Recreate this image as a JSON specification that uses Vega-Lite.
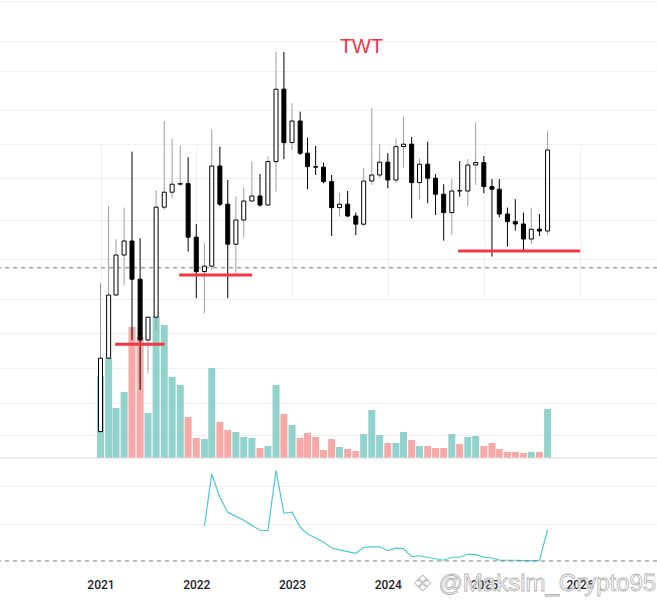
{
  "$schema": "https://vega.github.io/schema/vega-lite/v6.json",
  "width": 657,
  "height": 603,
  "autosize": {"type": "none"},
  "padding": 0,
  "background": "white",
  "datasets": {
    "ohlc": [
      {"date": "2021-01-01", "open": 0.702, "high": 1.444, "low": 0.700, "close": 1.069, "volume": 82, "ind": null},
      {"date": "2021-02-01", "open": 1.069, "high": 1.830, "low": 1.066, "close": 1.385, "volume": 100, "ind": null},
      {"date": "2021-03-01", "open": 1.385, "high": 1.664, "low": 1.380, "close": 1.585, "volume": 50, "ind": null},
      {"date": "2021-04-01", "open": 1.585, "high": 1.822, "low": 1.435, "close": 1.655, "volume": 66, "ind": null},
      {"date": "2021-05-01", "open": 1.655, "high": 2.102, "low": 1.160, "close": 1.464, "volume": 131, "ind": null},
      {"date": "2021-06-01", "open": 1.464, "high": 1.669, "low": 0.910, "close": 1.160, "volume": 121, "ind": null},
      {"date": "2021-07-01", "open": 1.160, "high": 1.276, "low": 0.995, "close": 1.274, "volume": 45, "ind": null},
      {"date": "2021-08-01", "open": 1.274, "high": 1.910, "low": 1.210, "close": 1.824, "volume": 142, "ind": null},
      {"date": "2021-09-01", "open": 1.824, "high": 2.255, "low": 1.810, "close": 1.899, "volume": 133, "ind": null},
      {"date": "2021-10-01", "open": 1.899, "high": 2.165, "low": 1.869, "close": 1.939, "volume": 81, "ind": null},
      {"date": "2021-11-01", "open": 1.939, "high": 2.132, "low": 1.930, "close": 1.942, "volume": 73, "ind": null},
      {"date": "2021-12-01", "open": 1.942, "high": 2.074, "low": 1.602, "close": 1.674, "volume": 41, "ind": null},
      {"date": "2022-01-01", "open": 1.674, "high": 1.740, "low": 1.369, "close": 1.502, "volume": 20, "ind": null},
      {"date": "2022-02-01", "open": 1.502, "high": 1.644, "low": 1.294, "close": 1.529, "volume": 19, "ind": 18.5},
      {"date": "2022-03-01", "open": 1.529, "high": 2.214, "low": 1.510, "close": 2.030, "volume": 90, "ind": 46.4},
      {"date": "2022-04-01", "open": 2.030, "high": 2.127, "low": 1.830, "close": 1.839, "volume": 36, "ind": 34.0},
      {"date": "2022-05-01", "open": 1.839, "high": 1.960, "low": 1.369, "close": 1.639, "volume": 28, "ind": 26.0},
      {"date": "2022-06-01", "open": 1.639, "high": 1.877, "low": 1.494, "close": 1.760, "volume": 26, "ind": 23.8},
      {"date": "2022-07-01", "open": 1.760, "high": 1.922, "low": 1.674, "close": 1.855, "volume": 21, "ind": 21.7},
      {"date": "2022-08-01", "open": 1.855, "high": 2.052, "low": 1.853, "close": 1.880, "volume": 20, "ind": 19.0},
      {"date": "2022-09-01", "open": 1.880, "high": 1.990, "low": 1.827, "close": 1.835, "volume": 10, "ind": 16.4},
      {"date": "2022-10-01", "open": 1.835, "high": 2.077, "low": 1.830, "close": 2.052, "volume": 12, "ind": 16.2},
      {"date": "2022-11-01", "open": 2.052, "high": 2.602, "low": 1.902, "close": 2.414, "volume": 73, "ind": 48.2},
      {"date": "2022-12-01", "open": 2.414, "high": 2.600, "low": 2.064, "close": 2.147, "volume": 44, "ind": 25.6},
      {"date": "2023-01-01", "open": 2.147, "high": 2.344, "low": 2.110, "close": 2.255, "volume": 33, "ind": 26.0},
      {"date": "2023-02-01", "open": 2.255, "high": 2.302, "low": 2.085, "close": 2.094, "volume": 20, "ind": 18.1},
      {"date": "2023-03-01", "open": 2.094, "high": 2.172, "low": 1.914, "close": 2.027, "volume": 25, "ind": 14.4},
      {"date": "2023-04-01", "open": 2.027, "high": 2.130, "low": 1.985, "close": 2.024, "volume": 21, "ind": 12.3},
      {"date": "2023-05-01", "open": 2.024, "high": 2.047, "low": 1.944, "close": 1.952, "volume": 8, "ind": 10.1},
      {"date": "2023-06-01", "open": 1.952, "high": 1.985, "low": 1.680, "close": 1.822, "volume": 19, "ind": 6.9},
      {"date": "2023-07-01", "open": 1.822, "high": 1.894, "low": 1.777, "close": 1.839, "volume": 11, "ind": 5.9},
      {"date": "2023-08-01", "open": 1.839, "high": 1.905, "low": 1.774, "close": 1.780, "volume": 9, "ind": 5.0},
      {"date": "2023-09-01", "open": 1.780, "high": 1.797, "low": 1.685, "close": 1.739, "volume": 7, "ind": 4.1},
      {"date": "2023-10-01", "open": 1.739, "high": 2.019, "low": 1.727, "close": 1.955, "volume": 24, "ind": 7.3},
      {"date": "2023-11-01", "open": 1.955, "high": 2.319, "low": 1.935, "close": 1.985, "volume": 48, "ind": 7.5},
      {"date": "2023-12-01", "open": 1.985, "high": 2.140, "low": 1.970, "close": 2.049, "volume": 23, "ind": 7.6},
      {"date": "2024-01-01", "open": 2.049, "high": 2.094, "low": 1.919, "close": 1.960, "volume": 15, "ind": 5.5},
      {"date": "2024-02-01", "open": 1.960, "high": 2.169, "low": 1.947, "close": 2.127, "volume": 15, "ind": 6.9},
      {"date": "2024-03-01", "open": 2.127, "high": 2.277, "low": 2.022, "close": 2.139, "volume": 26, "ind": 6.6},
      {"date": "2024-04-01", "open": 2.139, "high": 2.175, "low": 1.769, "close": 1.947, "volume": 18, "ind": 2.3},
      {"date": "2024-05-01", "open": 1.947, "high": 2.069, "low": 1.864, "close": 2.039, "volume": 12, "ind": 2.8},
      {"date": "2024-06-01", "open": 2.039, "high": 2.152, "low": 1.844, "close": 1.969, "volume": 12, "ind": 2.0},
      {"date": "2024-07-01", "open": 1.969, "high": 1.990, "low": 1.785, "close": 1.889, "volume": 10, "ind": 1.2},
      {"date": "2024-08-01", "open": 1.889, "high": 1.939, "low": 1.657, "close": 1.797, "volume": 10, "ind": 0.4},
      {"date": "2024-09-01", "open": 1.797, "high": 1.965, "low": 1.685, "close": 1.905, "volume": 24, "ind": 2.0},
      {"date": "2024-10-01", "open": 1.907, "high": 2.055, "low": 1.877, "close": 1.905, "volume": 14, "ind": 2.0},
      {"date": "2024-11-01", "open": 1.905, "high": 2.065, "low": 1.830, "close": 2.035, "volume": 21, "ind": 3.7},
      {"date": "2024-12-01", "open": 2.035, "high": 2.247, "low": 1.935, "close": 2.047, "volume": 22, "ind": 3.4},
      {"date": "2025-01-01", "open": 2.047, "high": 2.080, "low": 1.894, "close": 1.927, "volume": 12, "ind": 2.1},
      {"date": "2025-02-01", "open": 1.927, "high": 1.965, "low": 1.577, "close": 1.914, "volume": 15, "ind": 1.6},
      {"date": "2025-03-01", "open": 1.914, "high": 1.965, "low": 1.774, "close": 1.790, "volume": 9, "ind": 0.5},
      {"date": "2025-04-01", "open": 1.790, "high": 1.822, "low": 1.627, "close": 1.752, "volume": 6, "ind": 0.4},
      {"date": "2025-05-01", "open": 1.752, "high": 1.864, "low": 1.707, "close": 1.740, "volume": 6, "ind": 0.4},
      {"date": "2025-06-01", "open": 1.740, "high": 1.797, "low": 1.607, "close": 1.665, "volume": 5, "ind": 0.2},
      {"date": "2025-07-01", "open": 1.665, "high": 1.822, "low": 1.640, "close": 1.714, "volume": 6, "ind": 0.2},
      {"date": "2025-08-01", "open": 1.714, "high": 1.790, "low": 1.680, "close": 1.705, "volume": 6, "ind": 0.2},
      {"date": "2025-09-01", "open": 1.705, "high": 2.207, "low": 1.685, "close": 2.110, "volume": 49, "ind": 16.7}
    ],
    "levels": [
      {"start": "2021-02-26", "end": "2021-09-02", "level": 1.139},
      {"start": "2021-10-28", "end": "2022-08-02", "level": 1.485},
      {"start": "2024-09-25", "end": "2026-01-03", "level": 1.605}
    ],
    "one": [{}]
  },
  "resolve": {"scale": {"y": "independent"}},
  "layer": [
    {
      "data": {"name": "ohlc"},
      "mark": {"type": "bar", "width": 7},
      "encoding": {
        "x": {
          "field": "date",
          "type": "temporal",
          "title": null,
          "scale": {"domain": ["2020-01-03", "2026-10-04"], "nice": false},
          "axis": {
            "values": ["2021-01-01", "2022-01-01", "2023-01-01", "2024-01-01", "2025-01-01", "2026-01-01"],
            "format": "%Y",
            "grid": true,
            "gridColor": "#efefef",
            "domainColor": "#e3e3e3",
            "ticks": false,
            "labelPadding": -24,
            "labelFont": "Roboto",
            "labelFontSize": 12,
            "labelFontWeight": 500,
            "labelColor": "#1e222d",
            "labelFlush": false,
            "labelOverlap": false,
            "zindex": 0
          }
        },
        "y": {"field": "volume", "type": "quantitative", "scale": {"domain": [0, 150], "range": [458, 308]}, "axis": null},
        "color": {"condition": {"test": "datum.close >= datum.open", "value": "#92d2cc"}, "value": "#f7a9a7"}
      }
    },
    {
      "data": {"name": "one"},
      "mark": {"type": "rule", "color": "#d9d9d9", "strokeWidth": 1},
      "encoding": {
        "y": {"datum": 0, "scale": {"domain": [0, 150], "range": [458, 308]}, "axis": null}
      }
    },
    {
      "data": {"name": "one"},
      "mark": {"type": "rule", "color": "#7a7a7a", "strokeWidth": 1, "strokeDash": [4, 4]},
      "encoding": {
        "y": {"datum": 1.521, "scale": {"domain": [0, 2.86], "range": [572, 0]}, "axis": null}
      }
    },
    {
      "data": {"name": "ohlc"},
      "mark": {"type": "line", "color": "#4ccad6", "strokeWidth": 1.2},
      "encoding": {
        "x": {"field": "date", "type": "temporal", "title": null},
        "y": {
          "field": "ind",
          "type": "quantitative",
          "scale": {"domain": [0, 55], "range": [561, 457.875]},
          "axis": {"values": [20, 40], "labels": false, "ticks": false, "domain": false, "grid": true, "gridColor": "#efefef", "title": null}
        }
      }
    },
    {
      "data": {"name": "one"},
      "mark": {"type": "rule", "color": "#7a7a7a", "strokeWidth": 1, "strokeDash": [4, 4]},
      "encoding": {
        "y": {"datum": 0, "scale": {"domain": [0, 55], "range": [561, 457.875]}, "axis": null}
      }
    },
    {
      "data": {"name": "ohlc"},
      "mark": {"type": "rule", "strokeWidth": 1},
      "encoding": {
        "x": {"field": "date", "type": "temporal", "title": null},
        "y": {
          "field": "low",
          "type": "quantitative",
          "scale": {"domain": [0, 2.86], "range": [572, 0]},
          "axis": {
            "values": [2.855, 2.657, 2.507, 2.31, 2.139, 1.969, 1.76, 1.564, 1.365, 1.194, 1.019, 0.847, 0.685],
            "labels": false, "ticks": false, "domain": false, "grid": true, "gridColor": "#efefef", "title": null
          }
        },
        "y2": {"field": "high"},
        "color": {"condition": {"test": "datum.close >= datum.open", "value": "#9e9e9e"}, "value": "#000000"}
      }
    },
    {
      "data": {"name": "ohlc"},
      "mark": {"type": "bar", "width": 4, "stroke": "#000000", "strokeWidth": 1},
      "encoding": {
        "x": {"field": "date", "type": "temporal", "title": null},
        "y": {"field": "open", "type": "quantitative", "scale": {"domain": [0, 2.86], "range": [572, 0]}, "axis": null},
        "y2": {"field": "close"},
        "fill": {"condition": {"test": "datum.close >= datum.open", "value": "#ffffff"}, "value": "#000000"}
      }
    },
    {
      "data": {"name": "levels"},
      "mark": {"type": "rule", "color": "#f23645", "strokeWidth": 3},
      "encoding": {
        "x": {"field": "start", "type": "temporal", "title": null},
        "x2": {"field": "end"},
        "y": {"field": "level", "type": "quantitative", "scale": {"domain": [0, 2.86], "range": [572, 0]}, "axis": null}
      }
    },
    {
      "data": {"name": "one"},
      "mark": {"type": "text", "font": "Liberation Sans", "fontSize": 20, "color": "#f23645", "align": "center", "baseline": "middle"},
      "encoding": {
        "x": {"datum": {"year": 2023, "month": 9, "date": 23}, "type": "temporal", "title": null},
        "y": {"datum": 2.625, "scale": {"domain": [0, 2.86], "range": [572, 0]}, "axis": null},
        "text": {"value": "TWT"}
      }
    },
    {
      "data": {"name": "one"},
      "mark": {"type": "text", "font": "DejaVu Sans", "fontSize": 22, "fill": "#ffffff", "stroke": "#b0b0b0", "strokeWidth": 0.8, "opacity": 0.9, "align": "center", "baseline": "middle"},
      "encoding": {
        "x": {"datum": {"year": 2024, "month": 5, "date": 13}, "type": "temporal", "title": null},
        "y": {"datum": -0.06, "scale": {"domain": [0, 2.86], "range": [572, 0]}, "axis": null},
        "text": {"value": "❖"}
      }
    },
    {
      "data": {"name": "one"},
      "mark": {"type": "text", "font": "Liberation Sans", "fontSize": 24, "fill": "#ffffff", "stroke": "#a8a8a8", "strokeWidth": 0.8, "opacity": 0.9, "align": "left", "baseline": "middle"},
      "encoding": {
        "x": {"datum": {"year": 2024, "month": 7, "date": 12}, "type": "temporal", "title": null},
        "y": {"datum": -0.06, "scale": {"domain": [0, 2.86], "range": [572, 0]}, "axis": null},
        "text": {"value": "@Maksim_Crypto95"}
      }
    }
  ],
  "config": {"view": {"stroke": null}}
}
